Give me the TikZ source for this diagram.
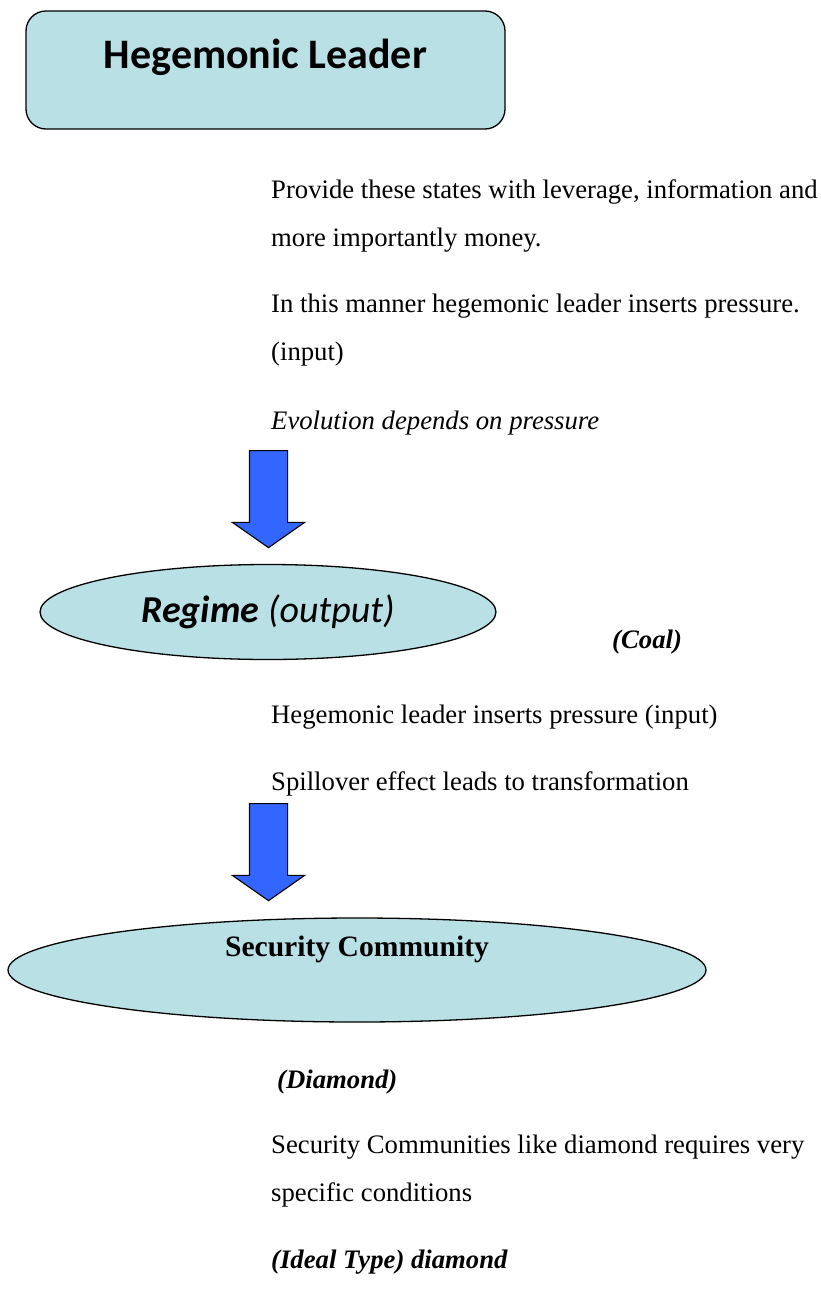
\documentclass[tikz,border=0pt]{standalone}
\usepackage{fontspec}
\setmainfont{Liberation Serif}
\newfontfamily\calibrifont{Carlito}
\usetikzlibrary{shapes.geometric,shapes.arrows}
\definecolor{paleteal}{HTML}{B9E0E5}
\definecolor{arrowblue}{HTML}{3366FF}

\begin{document}
\begin{tikzpicture}[x=1pt,y=-1pt,
    bodytext/.style={anchor=base west, inner sep=0pt, font=\fontsize{26.7}{26.7}\selectfont},
    tealshape/.style={draw=black, fill=paleteal, line width=1.3pt, inner sep=0pt},
    downarrow/.style={single arrow, draw=black, fill=arrowblue, line width=1.1pt,
      minimum height=97pt, minimum width=71pt, single arrow head extend=17pt,
      text height=18.5pt, text depth=18.5pt,
      single arrow tip angle=110, inner sep=0pt, rotate=-90}]
  \useasboundingbox (0,0) rectangle (821,1298);

  % top box
  \node[tealshape, rounded corners=20pt, minimum width=479pt, minimum height=118pt] (leaderbox) at (265.5,70) {};
  \node[font=\calibrifont\bfseries\fontsize{42}{42}\selectfont] (leader) at ([yshift=13pt]leaderbox.center) {Hegemonic Leader};

  \node[bodytext] (provide) at (271,198) {Provide these states with leverage, information and};
  \node[bodytext] (money) at (271,246) {more importantly money.};
  \node[bodytext] (manner) at (271,312) {In this manner hegemonic leader inserts pressure.};
  \node[bodytext] (inputone) at (271,360) {(input)};
  \node[bodytext, font=\fontsize{26.7}{26.7}\selectfont\itshape] (evolution) at (271,429) {Evolution depends on pressure};

  \node[downarrow] (arrowone) at (268.5,492.5) {};

  % regime
  \node[tealshape, ellipse, minimum width=456pt, minimum height=95pt] (regime) at (268,612)
    {\calibrifont\fontsize{38}{38}\selectfont\textbf{\textit{Regime}} \textit{(output)}};
  \node[bodytext, font=\fontsize{26.7}{26.7}\selectfont\bfseries\itshape] (coal) at (612,648) {(Coal)};

  \node[bodytext] (inserts) at (271,723) {Hegemonic leader inserts pressure (input)};
  \node[bodytext] (spillover) at (271,790) {Spillover effect leads to transformation};

  \node[downarrow] (arrowtwo) at (268.5,845.5) {};

  % security community
  \node[tealshape, ellipse, minimum width=698pt, minimum height=104pt] (community) at (357,970) {};
  \node[font=\fontsize{29.6}{29.6}\selectfont\bfseries] (communitytext) at ([yshift=21pt]community.center) {Security Community};

  \node[bodytext, font=\fontsize{26.7}{26.7}\selectfont\bfseries\itshape] (diamond) at (277,1088) {(Diamond)};
  \node[bodytext] (requires) at (271,1153) {Security Communities like diamond requires very};
  \node[bodytext] (conditions) at (271,1201) {specific conditions};
  \node[bodytext, font=\fontsize{26.7}{26.7}\selectfont\bfseries\itshape] (ideal) at (271,1268) {(Ideal Type) diamond};
\end{tikzpicture}
\end{document}
